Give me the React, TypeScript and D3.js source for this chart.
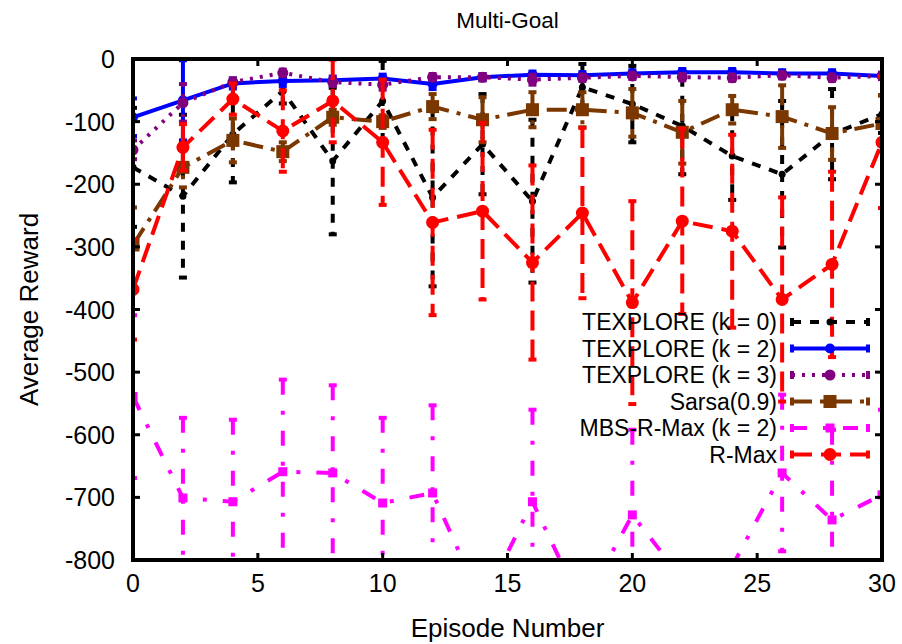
import * as d3 from 'd3';

// episode numbers on the x axis
const episodes = [0, 2, 4, 6, 8, 10, 12, 14, 16, 18, 20, 22, 24, 26, 28, 30];

// TEXPLORE (k = 0)
const k0Mean = [-173, -219, -120, -51, -163, -67, -221, -136, -227, -45, -72, -107, -155, -184, -120, -88];
const k0Err = [95, 130, 77, 20, 117, 64, 142, 80, 130, 37, 61, 77, 70, 117, 72, 30];

// TEXPLORE (k = 2)
const k2Mean = [-93, -66, -39, -35, -34, -31, -40, -29, -25, -26, -23, -21, -21, -23, -23, -27];
const k2Err = [30, 64, 8, 8, 6, 6, 8, 5, 5, 5, 5, 5, 5, 5, 5, 5];

// TEXPLORE (k = 3)
const k3Mean = [-145, -70, -37, -22, -37, -41, -29, -29, -33, -30, -27, -29, -30, -26, -30, -27];
const k3Err = [15, 30, 6, 5, 6, 8, 5, 5, 8, 5, 5, 5, 5, 5, 5, 5];

// Sarsa(0.9)
const sarsaMean = [-297, -173, -130, -148, -93, -100, -76, -97, -81, -81, -86, -117, -81, -92, -119, -103];
const sarsaErr = [60, 32, 35, 15, 12, 10, 20, 36, 28, 28, 38, 50, 22, 50, 42, 45];

// MBS-R-Max (k = 2)
const mbsMean = [-539, -701, -707, -659, -661, -709, -693, -870, -707, -875, -728, -830, -810, -661, -736, -696];
const mbsErr = [130, 128, 131, 147, 140, 136, 140, 60, 147, 60, 136, 25, 5, 125, 144, 136];

// R-Max
const rmaxMean = [-368, -141, -64, -115, -67, -133, -261, -243, -325, -246, -389, -259, -275, -384, -328, -133];
const rmaxErr = [80, 37, 25, 65, 66, 100, 148, 141, 155, 136, 162, 148, 154, 163, 148, 105];

const xTicks = [0, 5, 10, 15, 20, 25, 30];
const yTicks = [0, -100, -200, -300, -400, -500, -600, -700, -800];

type Series = {
  name: string;
  mean: number[];
  err: number[];
  color: string;
  dash: string;
  marker: 'circle' | 'square';
  size: number;
};

// drawn in this order (last one on top), same as the legend
const series: Series[] = [
  { name: 'TEXPLORE (k = 0)', mean: k0Mean, err: k0Err, color: '#000000', dash: '9,9', marker: 'circle', size: 3.5 },
  { name: 'TEXPLORE (k = 2)', mean: k2Mean, err: k2Err, color: '#0000ff', dash: '', marker: 'circle', size: 5 },
  { name: 'TEXPLORE (k = 3)', mean: k3Mean, err: k3Err, color: '#800080', dash: '3,7', marker: 'circle', size: 5.5 },
  { name: 'Sarsa(0.9)', mean: sarsaMean, err: sarsaErr, color: '#7a3700', dash: '20,8,4,8', marker: 'square', size: 13 },
  { name: 'MBS-R-Max (k = 2)', mean: mbsMean, err: mbsErr, color: '#ff00ff', dash: '15,16,4,16', marker: 'square', size: 9 },
  { name: 'R-Max', mean: rmaxMean, err: rmaxErr, color: '#ff0000', dash: '20,9', marker: 'circle', size: 6.5 },
];

const W = 902;
const H = 644;
const left = 133;
const right = 882;
const top = 59;
const bottom = 560;
const font = '"Liberation Sans", Arial, Helvetica, sans-serif';

const x = d3.scaleLinear().domain([0, 30]).range([left, right]);
const y = d3.scaleLinear().domain([-800, 0]).range([bottom, top]);

const App = () => {
  const line = d3.line<number>()
    .x((_, i) => x(episodes[i]))
    .y(d => y(d));

  const tickLen = 7;
  const cap = 4;

  return (
    <svg width={W} height={H} style={{ position: 'absolute', left: 0, top: 0, background: '#fff' }} fontFamily={font}>
      <defs>
        <clipPath id="plot-clip">
          <rect x={left} y={top} width={right - left} height={bottom - top} />
        </clipPath>
      </defs>

      {/* series: error bars, line, markers */}
      <g clipPath="url(#plot-clip)">
        {series.map(s => (
          <g key={s.name}>
            {s.mean.map((m, i) => {
              const cx = x(episodes[i]);
              const y1 = y(m + s.err[i]);
              const y2 = y(m - s.err[i]);
              return (
                <g key={i} stroke={s.color} strokeWidth={4}>
                  <line x1={cx} x2={cx} y1={y1} y2={y2} strokeDasharray={s.dash || undefined} />
                  <line x1={cx - cap} x2={cx + cap} y1={y1} y2={y1} />
                  <line x1={cx - cap} x2={cx + cap} y1={y2} y2={y2} />
                </g>
              );
            })}
            <path d={line(s.mean) ?? ''} fill="none" stroke={s.color} strokeWidth={4}
              strokeDasharray={s.dash || undefined} />
            {s.mean.map((m, i) => s.marker === 'circle'
              ? <circle key={i} cx={x(episodes[i])} cy={y(m)} r={s.size} fill={s.color} />
              : <rect key={i} x={x(episodes[i]) - s.size / 2} y={y(m) - s.size / 2} width={s.size} height={s.size} fill={s.color} />)}
          </g>
        ))}
      </g>

      {/* ticks, mirrored on all sides */}
      <g stroke="#000" strokeWidth={3}>
        {xTicks.map(t => (
          <g key={t}>
            <line x1={x(t)} x2={x(t)} y1={bottom} y2={bottom - tickLen} />
            <line x1={x(t)} x2={x(t)} y1={top} y2={top + tickLen} />
          </g>
        ))}
        {yTicks.map(t => (
          <g key={t}>
            <line x1={left} x2={left + tickLen} y1={y(t)} y2={y(t)} />
            <line x1={right} x2={right - tickLen} y1={y(t)} y2={y(t)} />
          </g>
        ))}
      </g>
      <rect x={left} y={top} width={right - left} height={bottom - top} fill="none" stroke="#000" strokeWidth={4} />

      {/* tick labels */}
      <g fontSize={25} fill="#000">
        {xTicks.map(t => (
          <text key={t} x={x(t)} y={bottom + 32} textAnchor="middle">{t}</text>
        ))}
        {yTicks.map(t => (
          <text key={t} x={left - 18} y={y(t) + 9} textAnchor="end">{t}</text>
        ))}
      </g>

      {/* axis titles */}
      <text x={(left + right) / 2} y={28} textAnchor="middle" fontSize={22.5}>Multi-Goal</text>
      <text x={(left + right) / 2} y={637} textAnchor="middle" fontSize={26}>Episode Number</text>
      <text transform={`translate(38,${(top + bottom) / 2}) rotate(-90)`} textAnchor="middle" fontSize={26}>Average Reward</text>

      {/* legend */}
      <g>
        {series.map((s, i) => {
          const ly = 322 + i * 26.5;
          return (
            <g key={s.name}>
              <text x={777} y={ly + 8} textAnchor="end" fontSize={23}>{s.name}</text>
              <g stroke={s.color} strokeWidth={4}>
                <line x1={792} x2={868} y1={ly} y2={ly} strokeDasharray={s.dash || undefined} />
                <line x1={792} x2={792} y1={ly - cap} y2={ly + cap} />
                <line x1={868} x2={868} y1={ly - cap} y2={ly + cap} />
              </g>
              {s.marker === 'circle'
                ? <circle cx={830} cy={ly} r={s.size} fill={s.color} />
                : <rect x={830 - s.size / 2} y={ly - s.size / 2} width={s.size} height={s.size} fill={s.color} />}
            </g>
          );
        })}
      </g>
    </svg>
  );
};

export default App;
